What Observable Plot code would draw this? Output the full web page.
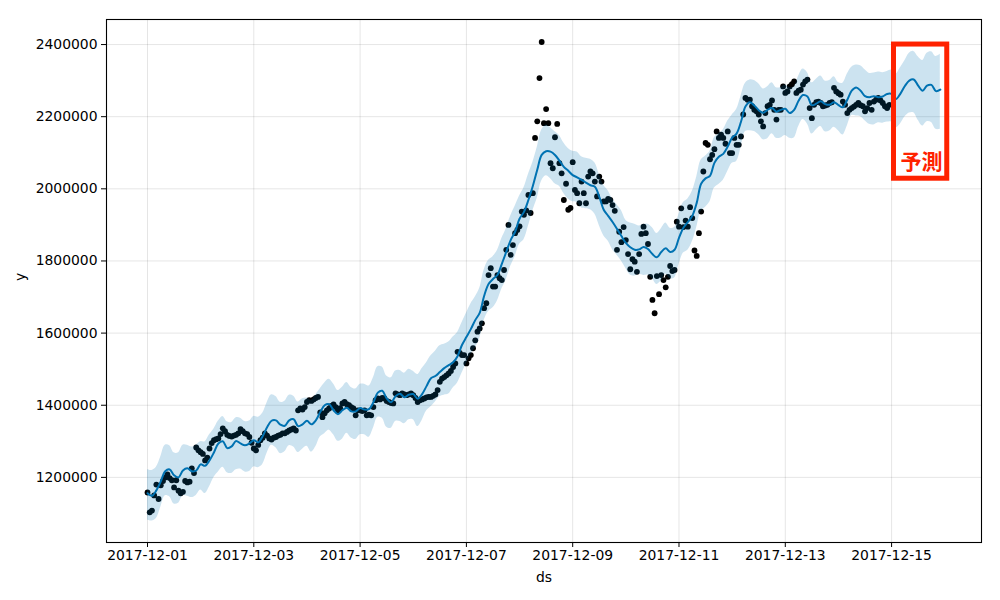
<!DOCTYPE html>
<html>
<head>
<meta charset="utf-8">
<script src="https://cdn.jsdelivr.net/npm/d3@7"></script>
<script src="https://cdn.jsdelivr.net/npm/@observablehq/plot@0.6"></script>
<style>
  html, body { margin: 0; padding: 0; background: #fff; }
</style>
</head>
<body>
<div id="chart"></div>
<script>
// ---- data ----
const startTime = "2017-12-01T00:00:00Z";
const observedStepHours = 1;
const forecastStepHours = 2;

// hourly observations (in thousands)
const observedYk = [
  1158,1103,1108,1150,1180,1140,1178,1190,1200,1208,1198,1192,1172,1192,1163,1156,1160,1190,1186,1188,1225,1212,1283,1275,
  1270,1265,1247,1255,1280,1295,1303,1306,1308,1320,1336,1328,1318,1315,1313,1316,1318,1322,1334,1328,1322,1320,1312,1296,
  1280,1275,1290,1303,1310,1322,1316,1308,1305,1310,1312,1316,1318,1322,1322,1326,1330,1333,1336,1330,1386,1391,1388,1395,
  1409,1414,1412,1416,1420,1423,1380,1367,1378,1386,1391,1398,1402,1395,1386,1392,1405,1409,1403,1400,1395,1391,1372,1386,
  1386,1384,1386,1372,1374,1372,1395,1414,1419,1416,1420,1419,1412,1409,1406,1405,1433,1430,1428,1433,1430,1428,1430,1433,
  1428,1420,1409,1414,1416,1419,1422,1423,1423,1426,1430,1442,1465,1474,1478,1483,1488,1495,1506,1516,1548,1545,1539,1539,
  1516,1530,1539,1558,1580,1604,1613,1627,1669,1683,1761,1780,1729,1729,1761,1752,1747,1775,1831,1900,1817,1844,1877,1886,
  1896,1937,1928,1940,1983,1933,1988,2141,2187,2307,2407,2182,2221,2182,2071,2057,2143,2180,2071,2043,1969,2014,1942,1947,
  2074,1997,1988,1960,2020,1988,1960,2034,2048,2043,2020,1979,2034,2020,1965,1965,1972,1969,1955,1939,1831,1881,1852,1894,
  1858,1819,1777,1805,1798,1770,1819,1875,1895,1877,1847,1756,1692,1655,1758,1708,1761,1747,1727,1756,1786,1772,1775,1909,
  1895,1946,1894,1912,1895,1949,1919,1829,1814,1877,1937,2048,2127,2122,2082,2094,2110,2159,2141,2150,2141,2125,2159,2099,
  2099,2141,2122,2122,2145,2206,2252,2247,2247,2229,2219,2215,2206,2187,2173,2210,2229,2233,2245,2219,2192,2219,2219,2284,
  2266,2270,2284,2290,2298,2266,2272,2275,2289,2298,2303,2224,2196,2233,2240,2242,2238,2229,2231,2233,2238,2240,2280,2270,
  2265,2261,2242,2233,2210,2219,2224,2228,2233,2238,2232,2229,2215,2224,2238,2219,2242,2247,2252,2245,2238,2229,2224,2233
];

// model fit / forecast every 2 hours (in thousands)
const yhatK = [
  1156,1149,1164,1189,1217,1222,1206,1200,1219,1225,1217,1219,
  1236,1232,1247,1269,1294,1300,1281,1286,1301,1294,1289,1294,
  1303,1297,1314,1339,1357,1358,1346,1343,1358,1361,1342,1347,
  1357,1347,1358,1381,1400,1403,1386,1375,1386,1393,1383,1383,
  1392,1388,1389,1408,1435,1440,1419,1408,1425,1432,1422,1429,
  1431,1418,1431,1453,1475,1481,1492,1503,1511,1519,1536,1567,
  1589,1611,1636,1656,1703,1736,1750,1761,1792,1825,1858,1881,
  1917,1936,1969,2008,2053,2094,2104,2103,2094,2078,2061,2050,
  2038,2032,2025,2017,2010,2006,1978,1942,1925,1908,1889,1869,
  1850,1838,1831,1832,1839,1833,1819,1810,1825,1835,1825,1831,
  1864,1892,1908,1925,1961,2014,2029,2036,2072,2089,2097,2117,
  2142,2153,2186,2228,2240,2231,2218,2211,2219,2224,2214,2219,
  2222,2210,2219,2244,2260,2256,2232,2236,2243,2235,2233,2240,
  2232,2226,2247,2272,2281,2272,2257,2254,2257,2254,2256,2263,
  2263,2249,2264,2285,2300,2303,2286,2272,2286,2288,2271,2275
];
const yhatUpperK = [
  1222,1219,1228,1257,1289,1288,1268,1268,1289,1289,1284,1290,
  1299,1299,1318,1334,1356,1369,1354,1352,1365,1364,1355,1356,
  1369,1367,1378,1407,1429,1424,1408,1411,1428,1425,1409,1418,
  1420,1414,1429,1446,1462,1472,1459,1441,1450,1463,1449,1445,
  1458,1458,1453,1476,1507,1506,1481,1476,1495,1496,1489,1500,
  1494,1485,1502,1518,1537,1550,1565,1569,1575,1589,1602,1629,
  1655,1681,1700,1724,1775,1802,1812,1829,1862,1889,1925,1952,
  1980,2003,2040,2073,2115,2163,2177,2169,2158,2148,2127,2112,
  2104,2102,2089,2085,2082,2072,2040,2010,1995,1972,1956,1940,
  1913,1905,1902,1897,1901,1902,1892,1876,1889,1905,1891,1893,
  1930,1962,1972,1993,2033,2080,2091,2104,2142,2153,2164,2188,
  2205,2220,2257,2293,2302,2300,2291,2277,2283,2294,2280,2281,
  2288,2280,2283,2312,2332,2322,2294,2304,2313,2299,2300,2311,
  2295,2293,2318,2337,2343,2341,2330,2320,2321,2324,2322,2325,
  2329,2319,2336,2355,2376,2381,2366,2356,2376,2380,2367,2373
];
const yhatLowerK = [
  1082,1079,1086,1117,1149,1146,1126,1128,1149,1148,1144,1150,
  1165,1155,1174,1200,1215,1228,1213,1211,1221,1223,1215,1216,
  1229,1227,1236,1267,1289,1282,1266,1271,1288,1284,1269,1278,
  1286,1270,1285,1312,1321,1331,1318,1300,1306,1322,1309,1305,
  1318,1318,1311,1336,1367,1364,1339,1336,1355,1355,1349,1360,
  1360,1341,1358,1384,1396,1409,1424,1428,1431,1448,1462,1489,
  1515,1541,1558,1584,1635,1660,1670,1689,1722,1748,1785,1812,
  1846,1859,1896,1939,1974,2022,2036,2028,2014,2007,1987,1972,
  1964,1962,1947,1945,1942,1930,1898,1870,1855,1831,1816,1800,
  1779,1761,1758,1763,1760,1761,1751,1735,1745,1764,1751,1753,
  1790,1822,1830,1853,1893,1938,1949,1964,2002,2012,2024,2048,
  2071,2076,2113,2159,2161,2159,2150,2136,2139,2153,2140,2141,
  2148,2140,2141,2172,2192,2180,2152,2164,2173,2158,2160,2171,
  2161,2149,2174,2203,2202,2200,2189,2179,2177,2183,2182,2185,
  2185,2169,2180,2199,2210,2211,2190,2174,2186,2184,2165,2165
];

const xTickLabels = ["2017-12-01","2017-12-03","2017-12-05","2017-12-07","2017-12-09","2017-12-11","2017-12-13","2017-12-15"];
const yTickValues = [1200000,1400000,1600000,1800000,2000000,2200000,2400000];
const xDomain = ["2017-11-30T05:29:00Z", "2017-12-16T16:36:00Z"];
const yDomain = [1019444, 2469444];

// forecast highlight annotation
const forecastBox = [{start: "2017-12-15T01:05:00Z", end: "2017-12-16T01:08:00Z", top: 2400000, bottom: 2028000}];
const forecastLabel = [{t: "2017-12-15T13:30:00Z", v: 2074000, text: "予測"}];

// ---- build tables ----
const HOUR = 3600000;
const t0 = new Date(startTime).getTime();
const observed = observedYk.map((v, i) => ({ds: new Date(t0 + i * observedStepHours * HOUR), y: v * 1000}));
const forecast = yhatK.map((v, i) => ({
  ds: new Date(t0 + i * forecastStepHours * HOUR),
  yhat: v * 1000,
  lo: yhatLowerK[i] * 1000,
  hi: yhatUpperK[i] * 1000
}));
const boxData = forecastBox.map(b => ({...b, start: new Date(b.start), end: new Date(b.end)}));
const labelData = forecastLabel.map(d => ({...d, t: new Date(d.t)}));

const chart = Plot.plot({
  width: 1000,
  height: 600,
  marginLeft: 106,
  marginRight: 19,
  marginTop: 19,
  marginBottom: 58,
  style: {fontFamily: "DejaVu Sans", fontSize: "13.9px", color: "#000", background: "#fff"},
  x: {
    type: "utc",
    domain: xDomain.map(d => new Date(d)),
    ticks: xTickLabels.map(d => new Date(d + "T00:00:00Z")),
    tickFormat: d3.utcFormat("%Y-%m-%d"),
    tickSize: 5,
    tickPadding: 3,
    grid: true,
    label: null
  },
  y: {
    domain: yDomain,
    ticks: yTickValues,
    tickFormat: d3.format("d"),
    tickSize: 5,
    tickPadding: 4,
    grid: true,
    label: null
  },
  marks: [
    Plot.dot(observed, {x: "ds", y: "y", r: 2.9, fill: "#000", stroke: "none"}),
    Plot.line(forecast, {x: "ds", y: "yhat", stroke: "#0072B2", strokeWidth: 2, curve: "catmull-rom"}),
    Plot.areaY(forecast, {x: "ds", y1: "lo", y2: "hi", fill: "#0072B2", fillOpacity: 0.2, curve: "catmull-rom"}),
    Plot.frame({stroke: "#000", strokeWidth: 1.1}),
    Plot.rect(boxData, {x1: "start", x2: "end", y1: "bottom", y2: "top", fill: "none", stroke: "#ff2200", strokeWidth: 5}),
    Plot.text(labelData, {x: "t", y: "v", text: "text", fill: "#ff2200", fontSize: 21, fontWeight: "bold", fontFamily: "Noto Sans CJK JP"}),
    Plot.text(["y"], {frameAnchor: "left", dx: -86, rotate: -90, fontSize: 13.9, fill: "#000"}),
    Plot.text(["ds"], {frameAnchor: "bottom", dy: 39, fontSize: 13.9, fill: "#000"})
  ]
});
document.getElementById("chart").appendChild(chart);
</script>
</body>
</html>
